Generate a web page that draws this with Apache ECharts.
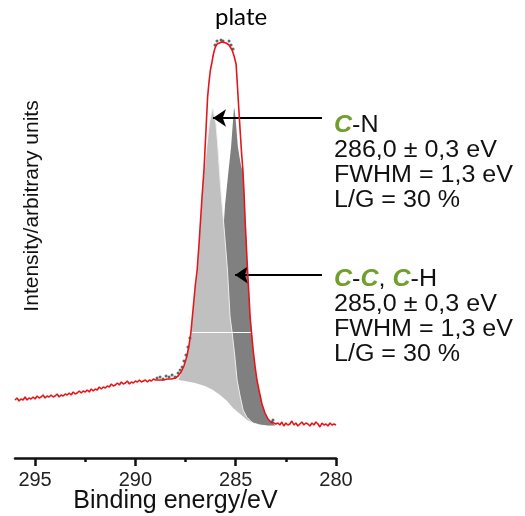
<!DOCTYPE html>
<html>
<head>
    <meta charset="utf-8">
    <title>XPS C1s plate</title>
    <script src="https://cdn.jsdelivr.net/npm/echarts@6/dist/echarts.min.js"></script>
    <style>
        html, body { margin: 0; padding: 0; background: #fff; }
    </style>
</head>
<body>
    <div id="chart" style="width: 525px; height: 516px;"></div>

    <script>
        // binding energy (eV) / intensity (arb. units)
        var baseLeft = [
            [296.0,58],[295.9,60],[295.8,57],[295.7,59],[295.6,58],[295.5,61],[295.4,58],[295.3,60],
            [295.2,59],[295.1,61],[295.0,59],[294.9,62],[294.8,60],[294.7,61],[294.6,63],[294.5,60],
            [294.4,62],[294.3,61],[294.2,63],[294.1,61],[294.0,62],[293.9,64],[293.8,61],[293.7,63],
            [293.6,62],[293.5,64],[293.4,63],[293.3,65],[293.2,63],[293.1,66],[293.0,64],[292.9,65],
            [292.8,67],[292.7,65],[292.6,67],[292.5,66],[292.4,68],[292.3,66],[292.2,69],[292.1,67],
            [292.0,69],[291.9,68],[291.8,71],[291.7,69],[291.6,71],[291.5,70],[291.4,72],[291.3,71],
            [291.2,74],[291.1,72],[291.0,73],[290.9,75],[290.8,73],[290.7,76],[290.6,74],[290.5,75],
            [290.4,77],[290.3,74],[290.2,76],[290.1,75],[290.0,77],[289.9,76],[289.8,78],[289.7,76],
            [289.6,77],[289.5,78],[289.4,76],[289.3,78],[289.2,77],[289.1,79],[289.0,78]
        ];
        var peakEnvelope = [
            [288.8,78],[288.6,78],[288.4,79],[288.2,79],[288.0,80],[287.87,82],[287.72,86],[287.58,92],
            [287.43,102],[287.33,112],[287.23,126],[287.16,141],[287.08,158],[287.01,173],[286.92,188],
            [286.83,213],[286.75,238],[286.67,263],[286.58,288],[286.53,308],[286.48,328],[286.40,361],
            [286.33,376],[286.26,388],[286.18,396],[286.11,404],[286.03,410],[285.93,414],[285.88,415],
            [285.69,416],[285.48,415],[285.33,413],[285.18,408],[285.08,402],[284.98,394],[284.93,378],
            [284.88,361],[284.78,328],[284.70,303],[284.64,288],[284.58,263],[284.53,238],[284.47,213],
            [284.41,188],[284.34,163],[284.28,141],[284.20,123],[284.13,108],[284.03,91],[283.94,78],
            [283.83,67],[283.69,54],[283.54,45],[283.39,39],[283.24,36],[283.1,35]
        ];
        var baseRight = [
            [283.0,34],[282.9,35],[282.8,33],[282.7,36],[282.6,32],[282.5,35],[282.4,33],[282.3,34],
            [282.2,37],[282.1,33],[282.0,35],[281.9,32],[281.8,34],[281.7,36],[281.6,33],[281.5,35],
            [281.4,34],[281.3,32],[281.2,35],[281.1,33],[281.0,36],[280.9,34],[280.8,31],[280.7,35],
            [280.6,33],[280.5,34],[280.4,32],[280.3,35],[280.2,33],[280.1,34],[280.0,33]
        ];
        // raw points that show out from under the fit
        var rawPoints = [
            [288.92,80],[288.77,81],[288.62,79],[288.47,82],[288.32,81],[288.17,83],[288.02,81],
            [287.87,85],[287.77,88],[287.67,91],[287.58,97],[287.48,103],[287.38,111],[287.28,120],
            [286.03,413],[285.93,417],[285.83,420],[285.73,418],[285.63,417],[285.53,419],[285.43,420],
            [285.33,417],[285.23,413],[285.13,409],[283.19,36],[283.14,38]
        ];
        // Shirley background (ends padded a little so it hides the fill edges)
        var background = [
            [288.1,79],[287.87,78],[287.53,77],[287.03,75],[286.53,72],[286.13,68],[285.78,63],[285.43,57],
            [285.13,50],[284.78,44],[284.43,38],[284.13,35],[283.79,33],[283.39,32],[283.04,32],[282.85,32]
        ];
        // C-N component (on background)
        var compCN = [
            [287.87,78],[287.72,86],[287.58,92],[287.43,102],[287.33,112],[287.23,126],[287.16,141],
            [287.08,158],[287.00,173],[286.91,188],[286.83,213],[286.75,238],[286.67,263],[286.58,286],
            [286.50,300],[286.44,311],[286.38,323],[286.31,335],[286.23,343],[286.14,350],[286.08,343],
            [286.03,338],[285.98,334],[285.89,311],[285.83,293],[285.78,278],[285.70,258],[285.61,238],
            [285.51,213],[285.41,188],[285.34,163],[285.28,141],[285.18,126],[285.05,103],[284.93,78],
            [284.78,62],[284.63,48],[284.45,41],[284.25,37],[284.13,35],[283.79,33],[283.39,32],[283.04,32]
        ];
        // C-C, C-H component (on background)
        var compCC = [
            [287.87,78],[287.03,75],[286.53,74],[286.28,82],[286.08,113],[285.88,158],[285.68,208],
            [285.53,253],[285.38,283],[285.23,311],[285.15,333],[285.08,351],[285.01,341],[284.95,326],
            [284.89,311],[284.80,300],[284.73,292],[284.64,286],[284.57,263],[284.52,238],[284.46,213],
            [284.41,188],[284.34,163],[284.28,141],[284.20,123],[284.13,108],[284.03,91],[283.94,78],
            [283.83,67],[283.69,54],[283.54,45],[283.39,39],[283.24,36],[283.04,33]
        ];
        var majorTicks = [280, 285, 290, 295];
        var minorTicks = [282.5, 287.5, 292.5];
        // arrows: [tail, tip]
        var arrowCN = [[280.7, 340], [286.13, 340]];
        var arrowCC = [[280.7, 183], [285.03, 183]];

        var envelope = baseLeft.concat(peakEnvelope, baseRight);

        var chart = echarts.init(document.getElementById('chart'));

        var labelFont = 'Liberation Sans, Arial, sans-serif';

        var option = {
            animation: false,
            backgroundColor: '#fff',
            title: {
                text: 'plate',
                left: 210,
                top: 0,
                textStyle: { fontFamily: 'Lato', fontSize: 24, fontWeight: 'normal', color: '#000' }
            },
            grid: { left: 15, right: 189, top: 40, bottom: 58, outerBoundsMode: 'none', containLabel: false },
            xAxis: [
                {
                    type: 'value',
                    min: 280,
                    max: 296,
                    inverse: true,
                    z: 10,
                    name: 'Binding energy/eV',
                    nameLocation: 'middle',
                    nameGap: 31,
                    nameMoveOverlap: false,
                    nameTextStyle: { fontFamily: labelFont, fontSize: 25, color: '#111' },
                    axisLine: { lineStyle: { color: '#111', width: 2.5 } },
                    axisTick: { customValues: majorTicks, length: 8, lineStyle: { color: '#111', width: 2.5 } },
                    axisLabel: { customValues: majorTicks, margin: 12, fontFamily: labelFont, fontSize: 20, color: '#222' },
                    splitLine: { show: false }
                },
                {
                    type: 'value',
                    min: 280,
                    max: 296,
                    inverse: true,
                    position: 'bottom',
                    z: 10,
                    axisLine: { show: false },
                    axisTick: { customValues: minorTicks, length: 4, lineStyle: { color: '#111', width: 2.5 } },
                    axisLabel: { show: false },
                    splitLine: { show: false }
                }
            ],
            yAxis: {
                type: 'value',
                min: 0,
                max: 418,
                name: 'Intensity/arbitrary units',
                nameLocation: 'middle',
                nameRotate: 90,
                nameGap: -28,
                nameTextStyle: { fontFamily: labelFont, fontSize: 21, color: '#111', padding: [0, 0, 0, 86] },
                axisLine: { show: false },
                axisTick: { show: false },
                axisLabel: { show: false },
                splitLine: { show: false }
            },
            graphic: [
                {
                    type: 'text',
                    x: 334,
                    y: 113,
                    scaleX: 1.09,
                    style: {
                        text: '{g|C}-N\n286,0 ± 0,3 eV\nFWHM = 1,3 eV\nL/G = 30 %',
                        fontFamily: labelFont,
                        fontSize: 23,
                        lineHeight: 25,
                        fill: '#111',
                        rich: {
                            g: { fill: '#6fa02c', fontWeight: 'bold', fontStyle: 'italic', fontSize: 23, lineHeight: 25, fontFamily: labelFont }
                        }
                    }
                },
                {
                    type: 'text',
                    x: 334,
                    y: 267,
                    scaleX: 1.09,
                    style: {
                        text: '{g|C}-{g|C}, {g|C}-H\n285,0 ± 0,3 eV\nFWHM = 1,3 eV\nL/G = 30 %',
                        fontFamily: labelFont,
                        fontSize: 23,
                        lineHeight: 25,
                        fill: '#111',
                        rich: {
                            g: { fill: '#6fa02c', fontWeight: 'bold', fontStyle: 'italic', fontSize: 23, lineHeight: 25, fontFamily: labelFont }
                        }
                    }
                }
            ],
            series: [
                {
                    name: 'C-C, C-H',
                    type: 'line',
                    data: compCC,
                    symbol: 'none',
                    silent: true,
                    z: 2,
                    lineStyle: { width: 0 },
                    areaStyle: { color: '#808080', opacity: 1 }
                },
                {
                    name: 'C-N',
                    type: 'line',
                    data: compCN,
                    symbol: 'none',
                    silent: true,
                    z: 3,
                    lineStyle: { color: '#eeeeee', width: 1 },
                    areaStyle: { color: '#c0c0c0', opacity: 1 }
                },
                {
                    name: 'background',
                    type: 'line',
                    data: background,
                    symbol: 'none',
                    silent: true,
                    z: 4,
                    lineStyle: { width: 0 },
                    areaStyle: { color: '#ffffff', opacity: 1 },
                    markLine: {
                        silent: true,
                        symbol: 'none',
                        label: { show: false },
                        lineStyle: { color: '#ffffff', width: 1, type: 'solid' },
                        data: [[{ coord: [287.23, 126] }, { coord: [284.18, 126] }]]
                    }
                },
                {
                    name: 'data',
                    type: 'scatter',
                    data: rawPoints,
                    symbolSize: 3,
                    silent: true,
                    z: 5,
                    itemStyle: { color: '#404040' }
                },
                {
                    name: 'fit',
                    type: 'line',
                    data: envelope,
                    symbol: 'none',
                    silent: true,
                    z: 6,
                    lineStyle: { color: '#e3161b', width: 1.6 },
                    markLine: {
                        silent: true,
                        symbol: ['none', 'arrow'],
                        symbolSize: 13,
                        label: { show: false },
                        lineStyle: { color: '#000', width: 2, type: 'solid' },
                        data: [
                            [{ coord: arrowCN[0] }, { coord: arrowCN[1] }],
                            [{ coord: arrowCC[0] }, { coord: arrowCC[1] }]
                        ]
                    }
                }
            ]
        };

        chart.setOption(option);
    </script>
</body>
</html>
